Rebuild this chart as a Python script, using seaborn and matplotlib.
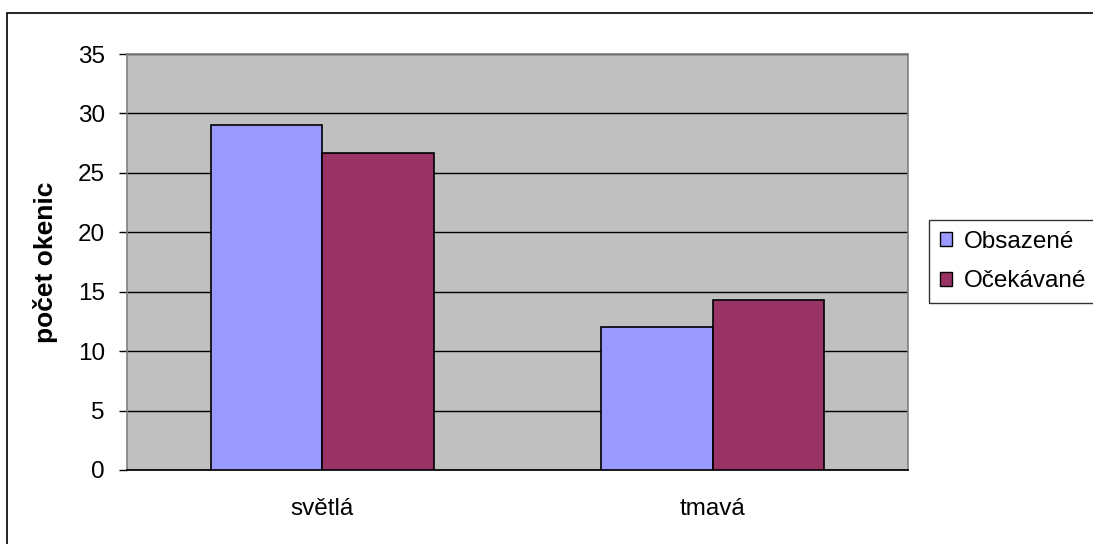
import matplotlib
matplotlib.use("Agg")
import matplotlib.pyplot as plt
import matplotlib.patches as mpatches
import seaborn as sns
import pandas as pd

categories = ["světlá", "tmavá"]
series = ["Obsazené", "Očekávané"]
observed = [29, 12]
expected = [26.7, 14.3]
colors = ["#9999FF", "#993366"]

df = pd.DataFrame({
    "kategorie": categories * 2,
    "řada": [series[0]] * 2 + [series[1]] * 2,
    "hodnota": observed + expected,
})

sns.set_theme(style="white")
plt.rcParams["font.family"] = ["Liberation Sans", "DejaVu Sans"]
plt.rcParams.update({"text.color": "black", "axes.labelcolor": "black",
                     "xtick.color": "black", "ytick.color": "black"})

W, H = 1093, 544
fig = plt.figure(figsize=(W / 100, H / 100), dpi=100)
ax = fig.add_axes([127 / W, (H - 470) / H, 781 / W, 416 / H])
ax.set_facecolor("#C0C0C0")

sns.barplot(data=df, x="kategorie", y="hodnota", hue="řada", hue_order=series,
            order=categories, palette=colors, width=0.57, edgecolor="black",
            linewidth=1.2, saturation=1, ax=ax, zorder=3)

ax.set_xlim(-0.5, 1.5)
ax.set_ylim(0, 35)
ax.set_yticks(range(0, 36, 5))
ax.yaxis.grid(True, color="black", linewidth=1)
ax.set_axisbelow(True)

ax.set_xticks([0, 1])
ax.set_xticklabels(categories)
ax.set_xticks([-0.5, 0.5, 1.5], minor=True)
ax.tick_params(axis="x", which="major", length=0, pad=20, labelsize=17.5,
               labelcolor="black")
ax.tick_params(axis="x", which="minor", length=6, width=1, color="black", direction="out")
ax.tick_params(axis="y", which="major", length=6, width=1, color="black",
               direction="out", left=True, labelsize=17.5, pad=10, labelcolor="black")

ax.set_xlabel("")
ax.set_ylabel("počet okenic", fontsize=19, fontweight="bold", labelpad=14,
              color="black")

for side in ["top", "right", "left"]:
    ax.spines[side].set_color("#808080")
    ax.spines[side].set_linewidth(1.2)
ax.spines["bottom"].set_color("black")

ax.legend_.remove()
handles = [mpatches.Patch(facecolor=c, edgecolor="black", linewidth=1) for c in colors]
leg = fig.legend(handles, series, loc="upper left",
                 bbox_to_anchor=(929 / W, (H - 220) / H), fontsize=17.5,
                 frameon=True, fancybox=False, edgecolor="black",
                 handlelength=0.5, handleheight=0.5, handletextpad=0.5,
                 borderpad=0.45, labelspacing=0.72, borderaxespad=0,
                 labelcolor="black")
leg.get_frame().set_linewidth(1)

# outer chart frame, running off the right and bottom edges
fig.patches.append(mpatches.Rectangle((7 / W, -0.1), 1.2, (H - 13) / H + 0.1,
                                      transform=fig.transFigure, fill=False,
                                      edgecolor="black", linewidth=1.2))

fig.savefig("out.png", dpi=100, facecolor="white")
